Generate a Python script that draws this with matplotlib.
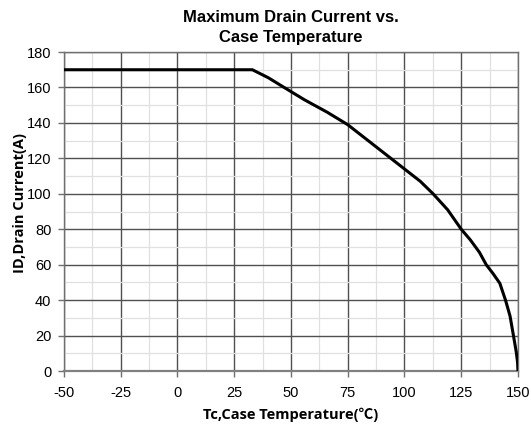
import matplotlib.pyplot as plt
from matplotlib.ticker import MultipleLocator

plt.rcParams['axes.unicode_minus'] = False

# derating curve
tc = [-50, 33, 40, 47, 56, 66, 75, 88, 100, 107, 112.6, 119, 125, 129, 133, 136, 139, 142, 144.5, 146.5, 148, 149.2, 149.8, 150]
id_a = [170, 170, 165.5, 160, 153, 146, 139, 126, 114, 107, 100, 91, 80, 74, 67, 60, 55, 49.5, 40, 31, 20, 11, 5, 0]

x_ticks = [-50, -25, 0, 25, 50, 75, 100, 125, 150]
y_ticks = [0, 20, 40, 60, 80, 100, 120, 140, 160, 180]

fig = plt.figure(figsize=(5.31, 4.30), dpi=100)
ax = fig.add_axes([0.1205, 0.1372, 0.855, 0.7418])

ax.plot(tc, id_a, color='black', lw=2.2, solid_joinstyle='round', zorder=3)

ax.set_xlim(-50, 150)
ax.set_ylim(0, 180)
ax.set_xticks(x_ticks)
ax.set_yticks(y_ticks)
ax.xaxis.set_minor_locator(MultipleLocator(12.5))
ax.yaxis.set_minor_locator(MultipleLocator(10))

ax.grid(which='major', color='#505050', lw=1.0)
ax.grid(which='minor', color='#e0e0e0', lw=0.9)
ax.set_axisbelow(True)

for s in ax.spines.values():
    s.set_color('#707070')
    s.set_linewidth(1.0)
ax.spines['bottom'].set_color('#808080')
ax.spines['bottom'].set_linewidth(1.6)

ax.tick_params(which='major', length=4, width=1, color='#707070', labelsize=10.5, pad=5)
ax.tick_params(axis='x', pad=7)
ax.tick_params(which='minor', length=0)
for lab in ax.get_xticklabels() + ax.get_yticklabels():
    lab.set_family('Liberation Sans')

ax.set_title('Maximum Drain Current vs.\nCase Temperature', fontsize=12,
             fontweight='bold', family='Liberation Sans', pad=7, linespacing=1.45)
ax.set_xlabel('Tc,Case Temperature(℃)', fontsize=10.5, fontweight='bold',
              family=['Open Sans', 'Noto Sans CJK SC'], labelpad=5)
ax.set_ylabel('ID,Drain Current(A)', fontsize=10.5, fontweight='bold',
              family=['Open Sans', 'Noto Sans CJK SC'])
ax.yaxis.set_label_coords(-0.082, 0.527)

fig.savefig('out.png', dpi=100)
